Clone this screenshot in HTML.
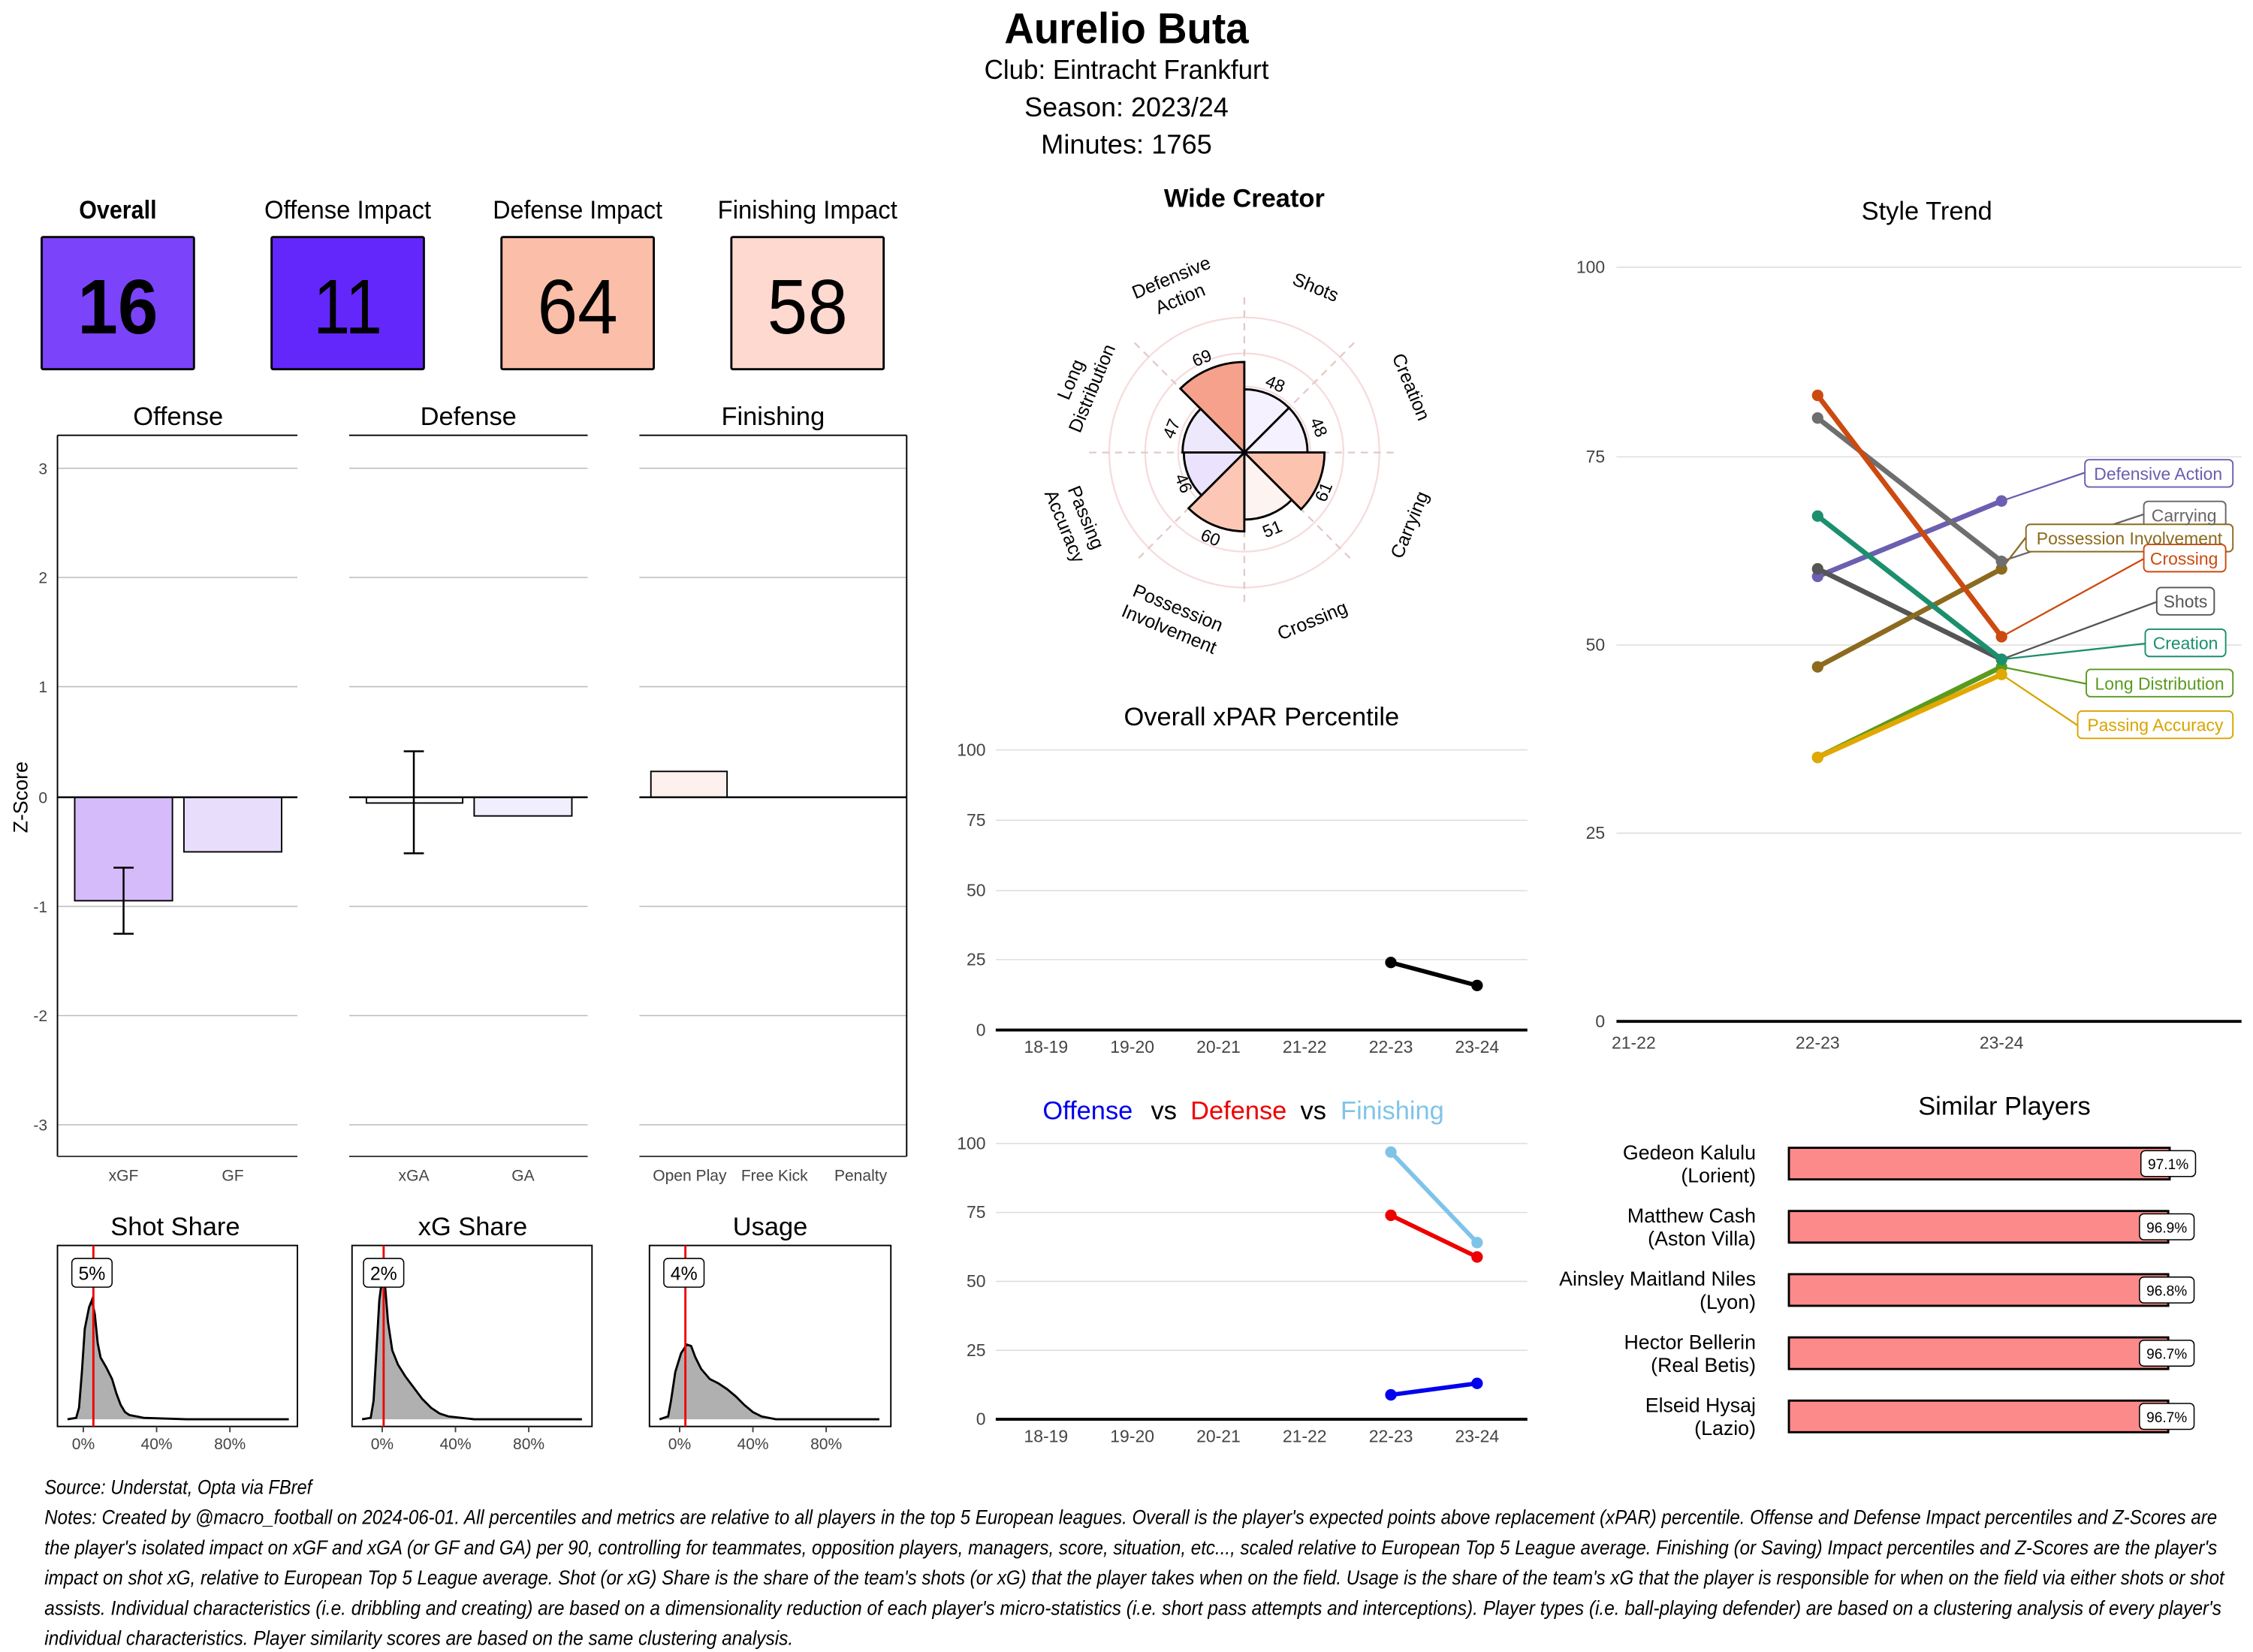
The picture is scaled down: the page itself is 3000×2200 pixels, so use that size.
<!DOCTYPE html>
<html><head><meta charset="utf-8"><style>
html,body{margin:0;padding:0;background:#fff;}
svg{display:block;}
text{font-family:"Liberation Sans",sans-serif;}
</style></head><body>
<svg width="3000" height="2200" viewBox="0 0 1568 1150" preserveAspectRatio="none" xmlns="http://www.w3.org/2000/svg">
<rect width="1568" height="1150" fill="#fff"/>
<!-- Header -->
<text x="784" y="30" font-size="30" font-weight="bold" text-anchor="middle" textLength="170" lengthAdjust="spacingAndGlyphs">Aurelio Buta</text>
<text x="784" y="55" font-size="19" text-anchor="middle" textLength="198" lengthAdjust="spacingAndGlyphs">Club:  Eintracht Frankfurt</text>
<text x="784" y="81" font-size="19" text-anchor="middle" textLength="142" lengthAdjust="spacingAndGlyphs">Season:  2023/24</text>
<text x="784" y="107" font-size="19" text-anchor="middle" textLength="119" lengthAdjust="spacingAndGlyphs">Minutes:  1765</text>

<!-- Impact boxes -->
<g font-size="18" text-anchor="middle">
<text x="82" y="152" font-weight="bold" textLength="54" lengthAdjust="spacingAndGlyphs">Overall</text>
<text x="242" y="152" textLength="116" lengthAdjust="spacingAndGlyphs">Offense Impact</text>
<text x="402" y="152" textLength="118" lengthAdjust="spacingAndGlyphs">Defense Impact</text>
<text x="562" y="152" textLength="125" lengthAdjust="spacingAndGlyphs">Finishing Impact</text>
</g>
<rect x="29" y="165" width="106" height="92" fill="#7b44fb" stroke="#000" stroke-width="1.5" rx="1"/>
<rect x="189" y="165" width="106" height="92" fill="#6427fb" stroke="#000" stroke-width="1.5" rx="1"/>
<rect x="349" y="165" width="106" height="92" fill="#fbbea9" stroke="#000" stroke-width="1.5" rx="1"/>
<rect x="509" y="165" width="106" height="92" fill="#fdd9cf" stroke="#000" stroke-width="1.5" rx="1"/>
<g font-size="54" text-anchor="middle">
<text x="82" y="232" font-weight="bold" textLength="56" lengthAdjust="spacingAndGlyphs">16</text>
<text x="242" y="232" textLength="48" lengthAdjust="spacingAndGlyphs">11</text>
<text x="402" y="232" textLength="56" lengthAdjust="spacingAndGlyphs">64</text>
<text x="562" y="232" textLength="56" lengthAdjust="spacingAndGlyphs">58</text>
</g>

<!-- Z-score facets -->
<g font-size="18" text-anchor="middle">
<text x="124" y="296">Offense</text>
<text x="326" y="296">Defense</text>
<text x="538" y="296">Finishing</text>
</g>
<g stroke="#bbb" stroke-width="0.8">
<line x1="40" x2="207" y1="326" y2="326"/><line x1="40" x2="207" y1="402" y2="402"/><line x1="40" x2="207" y1="478" y2="478"/><line x1="40" x2="207" y1="631" y2="631"/><line x1="40" x2="207" y1="707" y2="707"/><line x1="40" x2="207" y1="783" y2="783"/>
<line x1="243" x2="409" y1="326" y2="326"/><line x1="243" x2="409" y1="402" y2="402"/><line x1="243" x2="409" y1="478" y2="478"/><line x1="243" x2="409" y1="631" y2="631"/><line x1="243" x2="409" y1="707" y2="707"/><line x1="243" x2="409" y1="783" y2="783"/>
<line x1="445" x2="631" y1="326" y2="326"/><line x1="445" x2="631" y1="402" y2="402"/><line x1="445" x2="631" y1="478" y2="478"/><line x1="445" x2="631" y1="631" y2="631"/><line x1="445" x2="631" y1="707" y2="707"/><line x1="445" x2="631" y1="783" y2="783"/>
</g>
<g stroke="#000" stroke-width="1">
<line x1="40" x2="207" y1="303" y2="303"/><line x1="243" x2="409" y1="303" y2="303"/><line x1="445" x2="631" y1="303" y2="303"/>
<line x1="40" x2="40" y1="303" y2="805"/><line x1="631" x2="631" y1="303" y2="805"/>
<line x1="40" x2="207" y1="805" y2="805" stroke="#444"/><line x1="243" x2="409" y1="805" y2="805" stroke="#444"/><line x1="445" x2="631" y1="805" y2="805" stroke="#444"/>
</g>
<g font-size="11" fill="#444" text-anchor="end">
<text x="33" y="330">3</text><text x="33" y="406">2</text><text x="33" y="482">1</text><text x="33" y="559">0</text><text x="33" y="635">-1</text><text x="33" y="711">-2</text><text x="33" y="787">-3</text>
</g>
<text transform="translate(19,555) rotate(-90)" font-size="14" text-anchor="middle">Z-Score</text>
<!-- bars -->
<rect x="52" y="555" width="68" height="72" fill="#d6bbfb" stroke="#000" stroke-width="1"/>
<rect x="128" y="555" width="68" height="38" fill="#e9ddfc" stroke="#000" stroke-width="1"/>
<rect x="255" y="555" width="67" height="4" fill="#faf7fe" stroke="#000" stroke-width="1"/>
<rect x="330" y="555" width="68" height="13" fill="#f1eefd" stroke="#000" stroke-width="1"/>
<rect x="453" y="537" width="53" height="18" fill="#fdf0ed" stroke="#000" stroke-width="1"/>
<g stroke="#000" stroke-width="1.3">
<line x1="40" x2="207" y1="555" y2="555"/><line x1="243" x2="409" y1="555" y2="555"/><line x1="445" x2="631" y1="555" y2="555"/>
<line x1="86" x2="86" y1="604" y2="650"/><line x1="79" x2="93" y1="604" y2="604"/><line x1="79" x2="93" y1="650" y2="650"/>
<line x1="288" x2="288" y1="523" y2="594"/><line x1="281" x2="295" y1="523" y2="523"/><line x1="281" x2="295" y1="594" y2="594"/>
</g>
<g font-size="11" fill="#444" text-anchor="middle">
<text x="86" y="822">xGF</text><text x="162" y="822">GF</text>
<text x="288" y="822">xGA</text><text x="364" y="822">GA</text>
<text x="480" y="822">Open Play</text><text x="539" y="822">Free Kick</text><text x="599" y="822">Penalty</text>
</g>

<!-- Share densities -->
<g font-size="18" text-anchor="middle">
<text x="122" y="860">Shot Share</text>
<text x="329" y="860">xG Share</text>
<text x="536" y="860">Usage</text>
</g>
<rect x="40" y="867" width="167" height="126" fill="none" stroke="#000" stroke-width="1"/>
<rect x="245" y="867" width="167" height="126" fill="none" stroke="#000" stroke-width="1"/>
<rect x="452" y="867" width="168" height="126" fill="none" stroke="#000" stroke-width="1"/>
<g fill="#b0b0b0" stroke="#000" stroke-width="1.5">
<path d="M47,988 L53,987 L55,980 L57,955 L59,925 L62,910 L64,905 L66,915 L68,935 L70,945 L74,952 L78,960 L81,970 L84,978 L87,983 L90,985 L95,986 L100,987 L130,988 L201,988"/>
<path d="M252,988 L258,987 L260,975 L262,940 L264,905 L266,890 L268,895 L270,920 L273,940 L277,950 L282,958 L288,966 L294,974 L300,980 L306,984 L312,986 L330,988 L405,988"/>
<path d="M459,988 L465,986 L467,975 L470,955 L474,942 L478,936 L481,937 L484,945 L488,953 L494,960 L500,963 L506,967 L512,972 L518,978 L524,983 L530,986 L540,988 L612,988"/>
</g>
<g stroke="#e00" stroke-width="1.5">
<line x1="65" x2="65" y1="867" y2="993"/><line x1="267" x2="267" y1="867" y2="993"/><line x1="477" x2="477" y1="867" y2="993"/>
</g>
<g fill="#fff" stroke="#000" stroke-width="0.8">
<rect x="50" y="876" width="28" height="20" rx="3"/><rect x="253" y="876" width="28" height="20" rx="3"/><rect x="462" y="876" width="28" height="20" rx="3"/>
</g>
<g font-size="13" text-anchor="middle">
<text x="64" y="891">5%</text><text x="267" y="891">2%</text><text x="476" y="891">4%</text>
</g>
<g stroke="#444" stroke-width="1"><line x1="58" x2="58" y1="993" y2="997"/><line x1="109" x2="109" y1="993" y2="997"/><line x1="160" x2="160" y1="993" y2="997"/>
<line x1="266" x2="266" y1="993" y2="997"/><line x1="317" x2="317" y1="993" y2="997"/><line x1="368" x2="368" y1="993" y2="997"/>
<line x1="473" x2="473" y1="993" y2="997"/><line x1="524" x2="524" y1="993" y2="997"/><line x1="575" x2="575" y1="993" y2="997"/></g>
<g font-size="11" fill="#444" text-anchor="middle">
<text x="58" y="1009">0%</text><text x="109" y="1009">40%</text><text x="160" y="1009">80%</text>
<text x="266" y="1009">0%</text><text x="317" y="1009">40%</text><text x="368" y="1009">80%</text>
<text x="473" y="1009">0%</text><text x="524" y="1009">40%</text><text x="575" y="1009">80%</text>
</g>

<!-- Radar -->
<text x="866" y="144" font-size="18" font-weight="bold" text-anchor="middle">Wide Creator</text>
<g fill="none" stroke="#f6dcdc" stroke-width="1.2">
<circle cx="866" cy="315" r="23"/><circle cx="866" cy="315" r="46"/><circle cx="866" cy="315" r="69"/><circle cx="866" cy="315" r="94"/>
</g>
<g stroke="#e4c8c8" stroke-width="1.2" stroke-dasharray="5,4">
<line x1="866" y1="207" x2="866" y2="423"/><line x1="758" y1="315" x2="974" y2="315"/>
<line x1="789.6" y1="238.6" x2="942.4" y2="391.4"/><line x1="942.4" y1="238.6" x2="789.6" y2="391.4"/>
</g>
<g stroke="#000" stroke-width="1.5">
<path d="M866,315 L821.5,270.5 A63,63 0 0 1 866,252 Z" fill="#f6a18b"/>
<path d="M866,315 L866,271 A44,44 0 0 1 897.1,283.9 Z" fill="#f5f1fe"/>
<path d="M866,315 L897.1,283.9 A44,44 0 0 1 910,315 Z" fill="#f5f1fe"/>
<path d="M866,315 L921.8,315 A55.8,55.8 0 0 1 905.5,354.5 Z" fill="#fcc3ae"/>
<path d="M866,315 L899,348 A46.7,46.7 0 0 1 866,361.7 Z" fill="#fdf3f1"/>
<path d="M866,315 L866,369.9 A54.9,54.9 0 0 1 827.2,353.8 Z" fill="#fcc8b5"/>
<path d="M866,315 L836.2,344.8 A42.1,42.1 0 0 1 823.9,315 Z" fill="#ebe2fd"/>
<path d="M866,315 L823,315 A43,43 0 0 1 835.6,284.6 Z" fill="#eee8fd"/>
</g>
<g font-size="12" text-anchor="middle">
<text transform="translate(838,253) rotate(-22.5)">69</text>
<text transform="translate(886,271) rotate(22.5)">48</text>
<text transform="translate(914,299) rotate(67.5)">48</text>
<text transform="translate(925,344) rotate(-67.5)">61</text>
<text transform="translate(887,372) rotate(-22.5)">51</text>
<text transform="translate(841,378) rotate(22.5)">60</text>
<text transform="translate(820,338) rotate(67.5)">46</text>
<text transform="translate(819,300) rotate(-67.5)">47</text>
</g>
<g font-size="13" text-anchor="middle">
<text transform="translate(818,200) rotate(-22.5)"><tspan x="0" y="-3">Defensive</tspan><tspan x="0" y="13">Action</tspan></text>
<text transform="translate(914,204) rotate(22.5)">Shots</text>
<text transform="translate(978,271) rotate(67.5)">Creation</text>
<text transform="translate(985,367) rotate(-67.5)">Carrying</text>
<text transform="translate(915,436) rotate(-22.5)">Crossing</text>
<text transform="translate(817,430) rotate(22.5)"><tspan x="0" y="-3">Possession</tspan><tspan x="0" y="13">Involvement</tspan></text>
<text transform="translate(749,363) rotate(67.5)"><tspan x="0" y="-3">Passing</tspan><tspan x="0" y="13">Accuracy</tspan></text>
<text transform="translate(752,267) rotate(-67.5)"><tspan x="0" y="-3">Long</tspan><tspan x="0" y="13">Distribution</tspan></text>
</g>

<!-- Overall xPAR -->
<text x="878" y="505" font-size="18" text-anchor="middle">Overall xPAR Percentile</text>
<g stroke="#ddd" stroke-width="0.8">
<line x1="693" x2="1063" y1="522" y2="522"/><line x1="693" x2="1063" y1="571" y2="571"/><line x1="693" x2="1063" y1="620" y2="620"/><line x1="693" x2="1063" y1="668" y2="668"/>
</g>
<line x1="693" x2="1063" y1="717" y2="717" stroke="#000" stroke-width="2"/>
<g font-size="12" fill="#444" text-anchor="end">
<text x="686" y="526">100</text><text x="686" y="575">75</text><text x="686" y="624">50</text><text x="686" y="672">25</text><text x="686" y="721">0</text>
</g>
<g font-size="12" fill="#444" text-anchor="middle">
<text x="728" y="733">18-19</text><text x="788" y="733">19-20</text><text x="848" y="733">20-21</text><text x="908" y="733">21-22</text><text x="968" y="733">22-23</text><text x="1028" y="733">23-24</text>
</g>
<line x1="968" y1="670" x2="1028" y2="686" stroke="#000" stroke-width="3"/>
<circle cx="968" cy="670" r="4"/><circle cx="1028" cy="686" r="4"/>

<!-- Offense vs Defense vs Finishing -->
<g font-size="18" text-anchor="middle">
<text x="757" y="779" fill="#0000ee">Offense</text>
<text x="810" y="779">vs</text>
<text x="862" y="779" fill="#ee0000">Defense</text>
<text x="914" y="779">vs</text>
<text x="969" y="779" fill="#7fc4e8">Finishing</text>
</g>
<g stroke="#ddd" stroke-width="0.8">
<line x1="693" x2="1063" y1="796" y2="796"/><line x1="693" x2="1063" y1="844" y2="844"/><line x1="693" x2="1063" y1="892" y2="892"/><line x1="693" x2="1063" y1="940" y2="940"/>
</g>
<line x1="693" x2="1063" y1="988" y2="988" stroke="#000" stroke-width="2"/>
<g font-size="12" fill="#444" text-anchor="end">
<text x="686" y="800">100</text><text x="686" y="848">75</text><text x="686" y="896">50</text><text x="686" y="944">25</text><text x="686" y="992">0</text>
</g>
<g font-size="12" fill="#444" text-anchor="middle">
<text x="728" y="1004">18-19</text><text x="788" y="1004">19-20</text><text x="848" y="1004">20-21</text><text x="908" y="1004">21-22</text><text x="968" y="1004">22-23</text><text x="1028" y="1004">23-24</text>
</g>
<line x1="968" y1="802" x2="1028" y2="865" stroke="#7fc4e8" stroke-width="3"/>
<circle cx="968" cy="802" r="4" fill="#7fc4e8"/><circle cx="1028" cy="865" r="4" fill="#7fc4e8"/>
<line x1="968" y1="846" x2="1028" y2="875" stroke="#ee0000" stroke-width="3"/>
<circle cx="968" cy="846" r="4" fill="#ee0000"/><circle cx="1028" cy="875" r="4" fill="#ee0000"/>
<line x1="968" y1="971" x2="1028" y2="963" stroke="#0000ee" stroke-width="3"/>
<circle cx="968" cy="971" r="4" fill="#0000ee"/><circle cx="1028" cy="963" r="4" fill="#0000ee"/>

<!-- Style Trend -->
<text x="1341" y="153" font-size="18" text-anchor="middle">Style Trend</text>
<g stroke="#ddd" stroke-width="0.8">
<line x1="1125" x2="1560" y1="186" y2="186"/><line x1="1125" x2="1560" y1="318" y2="318"/><line x1="1125" x2="1560" y1="449" y2="449"/><line x1="1125" x2="1560" y1="580" y2="580"/>
</g>
<line x1="1125" x2="1560" y1="711" y2="711" stroke="#000" stroke-width="2"/>
<g font-size="12" fill="#444" text-anchor="end">
<text x="1117" y="190">100</text><text x="1117" y="322">75</text><text x="1117" y="453">50</text><text x="1117" y="584">25</text><text x="1117" y="715">0</text>
</g>
<g font-size="12" fill="#444" text-anchor="middle">
<text x="1137" y="730">21-22</text><text x="1265" y="730">22-23</text><text x="1393" y="730">23-24</text>
</g>
<!-- connectors -->
<g stroke-width="1.2" fill="none">
<polyline points="1393,348.75 1451,329" stroke="#6a5fb0"/>
<polyline points="1393,390.75 1492,358" stroke="#666"/>
<polyline points="1393,396 1410,374" stroke="#8c6a1e"/>
<polyline points="1393,443.25 1492,389" stroke="#cc4a10"/>
<polyline points="1393,459 1501,419" stroke="#555"/>
<polyline points="1393,459 1493,448" stroke="#1b8f6e"/>
<polyline points="1393,464.25 1452,476" stroke="#5a9a1e"/>
<polyline points="1393,469.5 1446,505" stroke="#d9a400"/>
</g>
<g stroke-width="3.5">
<line x1="1265" y1="401.25" x2="1393" y2="348.75" stroke="#6a5fb0"/>
<line x1="1265" y1="396" x2="1393" y2="459" stroke="#555"/>
<line x1="1265" y1="464.25" x2="1393" y2="396" stroke="#8c6a1e"/>
<line x1="1265" y1="527.25" x2="1393" y2="464.25" stroke="#5a9a1e"/>
<line x1="1265" y1="527.25" x2="1393" y2="469.5" stroke="#e0a800"/>
<line x1="1265" y1="359.25" x2="1393" y2="459" stroke="#1b8f6e"/>
<line x1="1265" y1="291" x2="1393" y2="390.75" stroke="#6e6e6e"/>
<line x1="1265" y1="275.25" x2="1393" y2="443.25" stroke="#cc4a10"/>
</g>
<g>
<circle cx="1265" cy="401.25" r="4" fill="#6a5fb0"/><circle cx="1393" cy="348.75" r="4" fill="#6a5fb0"/>
<circle cx="1265" cy="396" r="4" fill="#555"/><circle cx="1393" cy="459" r="4" fill="#555"/>
<circle cx="1265" cy="464.25" r="4" fill="#8c6a1e"/><circle cx="1393" cy="396" r="4" fill="#8c6a1e"/>
<circle cx="1265" cy="527.25" r="4" fill="#5a9a1e"/><circle cx="1393" cy="464.25" r="4" fill="#5a9a1e"/>
<circle cx="1265" cy="527.25" r="4" fill="#e0a800"/><circle cx="1393" cy="469.5" r="4" fill="#e0a800"/>
<circle cx="1265" cy="359.25" r="4" fill="#1b8f6e"/><circle cx="1393" cy="459" r="4" fill="#1b8f6e"/>
<circle cx="1265" cy="291" r="4" fill="#6e6e6e"/><circle cx="1393" cy="390.75" r="4" fill="#6e6e6e"/>
<circle cx="1265" cy="275.25" r="4" fill="#cc4a10"/><circle cx="1393" cy="443.25" r="4" fill="#cc4a10"/>
</g>
<g fill="#fff" stroke-width="1">
<rect x="1451" y="320" width="103" height="19" rx="3" stroke="#6a5fb0"/>
<rect x="1492" y="349" width="57" height="19" rx="3" stroke="#666"/>
<rect x="1410" y="365" width="144" height="19" rx="3" stroke="#8c6a1e"/>
<rect x="1492" y="379" width="57" height="19" rx="3" stroke="#cc4a10"/>
<rect x="1501" y="409" width="40" height="19" rx="3" stroke="#555"/>
<rect x="1493" y="438" width="56" height="19" rx="3" stroke="#1b8f6e"/>
<rect x="1452" y="466" width="102" height="19" rx="3" stroke="#5a9a1e"/>
<rect x="1446" y="495" width="108" height="19" rx="3" stroke="#d9a400"/>
</g>
<g font-size="12" text-anchor="middle">
<text x="1502" y="334" fill="#6a5fb0">Defensive Action</text>
<text x="1520" y="363" fill="#666">Carrying</text>
<text x="1482" y="379" fill="#8c6a1e">Possession Involvement</text>
<text x="1520" y="393" fill="#cc4a10">Crossing</text>
<text x="1521" y="423" fill="#555">Shots</text>
<text x="1521" y="452" fill="#1b8f6e">Creation</text>
<text x="1503" y="480" fill="#5a9a1e">Long Distribution</text>
<text x="1500" y="509" fill="#d9a400">Passing Accuracy</text>
</g>

<!-- Similar players -->
<text x="1395" y="776" font-size="18" text-anchor="middle">Similar Players</text>
<g fill="#fd8a8a" stroke="#000" stroke-width="1.5">
<rect x="1245" y="799" width="265" height="22"/>
<rect x="1245" y="843" width="264" height="22"/>
<rect x="1245" y="887" width="264" height="22"/>
<rect x="1245" y="931" width="264" height="22"/>
<rect x="1245" y="975" width="264" height="22"/>
</g>
<g fill="#fff" stroke="#000" stroke-width="0.8">
<rect x="1490" y="801" width="38" height="18" rx="3"/><rect x="1489" y="845" width="38" height="18" rx="3"/><rect x="1489" y="889" width="38" height="18" rx="3"/><rect x="1489" y="933" width="38" height="18" rx="3"/><rect x="1489" y="977" width="38" height="18" rx="3"/>
</g>
<g font-size="10" text-anchor="middle">
<text x="1509" y="814">97.1%</text><text x="1508" y="858">96.9%</text><text x="1508" y="902">96.8%</text><text x="1508" y="946">96.7%</text><text x="1508" y="990">96.7%</text>
</g>
<g font-size="14" text-anchor="end">
<text x="1222" y="807">Gedeon Kalulu</text><text x="1222" y="823">(Lorient)</text>
<text x="1222" y="851">Matthew Cash</text><text x="1222" y="867">(Aston Villa)</text>
<text x="1222" y="895">Ainsley Maitland Niles</text><text x="1222" y="911">(Lyon)</text>
<text x="1222" y="939">Hector Bellerin</text><text x="1222" y="955">(Real Betis)</text>
<text x="1222" y="983">Elseid Hysaj</text><text x="1222" y="999">(Lazio)</text>
</g>

<!-- Notes -->
<g font-size="14" font-style="italic">
<text x="31" y="1040" textLength="186" lengthAdjust="spacingAndGlyphs">Source: Understat, Opta via FBref</text>
<text x="31" y="1061" textLength="1512" lengthAdjust="spacingAndGlyphs">Notes: Created by @macro_football on 2024-06-01. All percentiles and metrics are relative to all players in the top 5 European leagues. Overall is the player's expected points above replacement (xPAR) percentile. Offense and Defense Impact percentiles and Z-Scores are</text>
<text x="31" y="1082" textLength="1512" lengthAdjust="spacingAndGlyphs">the player's isolated impact on xGF and xGA (or GF and GA) per 90, controlling for teammates, opposition players, managers, score, situation, etc..., scaled relative to European Top 5 League average. Finishing (or Saving) Impact percentiles and Z-Scores are the player's</text>
<text x="31" y="1103" textLength="1517" lengthAdjust="spacingAndGlyphs">impact on shot xG, relative to European Top 5 League average. Shot (or xG) Share is the share of the team's shots (or xG) that the player takes when on the field. Usage is the share of the team's xG that the player is responsible for when on the field via either shots or shot</text>
<text x="31" y="1124" textLength="1515" lengthAdjust="spacingAndGlyphs">assists. Individual characteristics (i.e. dribbling and creating) are based on a dimensionality reduction of each player's micro-statistics (i.e. short pass attempts and interceptions). Player types (i.e. ball-playing defender) are based on a clustering analysis of every player's</text>
<text x="31" y="1145" textLength="521" lengthAdjust="spacingAndGlyphs">individual characteristics. Player similarity scores are based on the same clustering analysis.</text>
</g>
</svg>
</body></html>
